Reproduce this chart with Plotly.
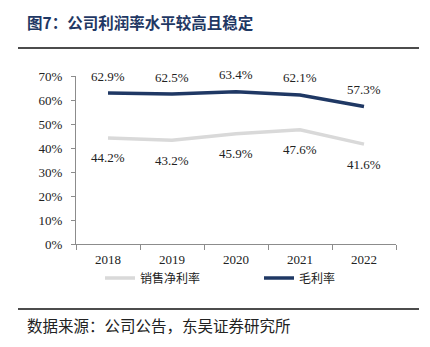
import plotly.graph_objects as go

years = ["2018", "2019", "2020", "2021", "2022"]
net_margin = [44.2, 43.2, 45.9, 47.6, 41.6]     # 销售净利率 (%)
gross_margin = [62.9, 62.5, 63.4, 62.1, 57.3]   # 毛利率 (%)
y_ticks = [0, 10, 20, 30, 40, 50, 60, 70]
y_tick_labels = [f"{v}%" for v in y_ticks]

NAVY = "#1f3864"
GRAY = "#d9d9d9"
AXIS = "#8c8c8c"
SERIF = "Liberation Serif, Times New Roman, serif"
CJK = "Noto Sans CJK SC, sans-serif"

W, H = 430, 347
L, R, T, B = 76, 34, 76, 103
pw, ph = W - L - R, H - T - B

def px(x):
    return (x - L) / pw

def py(y):
    return (H - B - y) / ph

fig = go.Figure()
fig.add_trace(go.Scatter(x=years, y=net_margin, mode="lines", name="销售净利率",
                         line=dict(color=GRAY, width=3.5), legend="legend"))
fig.add_trace(go.Scatter(x=years, y=gross_margin, mode="lines", name="毛利率",
                         line=dict(color=NAVY, width=3.5), legend="legend2"))

# value labels: gross margin above the line, net margin below
for i, v in enumerate(gross_margin):
    fig.add_annotation(x=i, y=v, text=f"{v:.1f}%", showarrow=False, yshift=17,
                       font=dict(family=SERIF, size=13, color="#222"))
for i, v in enumerate(net_margin):
    fig.add_annotation(x=i, y=v, text=f"{v:.1f}%", showarrow=False, yshift=-20,
                       font=dict(family=SERIF, size=13, color="#222"))

# header and footer
fig.add_annotation(xref="paper", yref="paper", x=px(25), y=py(22), xanchor="left",
                   yanchor="middle", showarrow=False,
                   text="<b>图7：公司利润率水平较高且稳定</b>",
                   font=dict(family=CJK, size=15.5, color=NAVY))
fig.add_shape(type="line", xref="paper", yref="paper", x0=px(18), x1=px(419),
              y0=py(48), y1=py(48), line=dict(color="#111", width=1.5))
fig.add_shape(type="line", xref="paper", yref="paper", x0=px(18), x1=px(419),
              y0=py(309), y1=py(309), line=dict(color="#111", width=1.5))
fig.add_annotation(xref="paper", yref="paper", x=px(25), y=py(325), xanchor="left",
                   yanchor="middle", showarrow=False,
                   text="数据来源：公司公告，东吴证券研究所",
                   font=dict(family=CJK, size=15.5, color="#222"))

legend_style = dict(orientation="h", xanchor="left", yanchor="middle",
                    font=dict(family=CJK, size=12, color="#222"),
                    bgcolor="rgba(0,0,0,0)", borderwidth=0)

fig.update_layout(
    width=W, height=H,
    margin=dict(l=L, r=R, t=T, b=B),
    paper_bgcolor="white", plot_bgcolor="white",
    showlegend=True,
    legend=dict(x=px(100), y=py(278), **legend_style),
    legend2=dict(x=px(259), y=py(278), **legend_style),
    xaxis=dict(type="category", range=[-0.5, 4.5], showline=True, linecolor=AXIS,
               linewidth=1, ticks="outside", tickson="boundaries", ticklen=5,
               tickcolor=AXIS, showgrid=False, zeroline=False, ticklabelstandoff=3,
               tickfont=dict(family=SERIF, size=13, color="#222")),
    yaxis=dict(range=[0, 70], tickvals=y_ticks, ticktext=y_tick_labels,
               showline=True, linecolor=AXIS, linewidth=1, ticks="outside",
               ticklen=4, tickcolor=AXIS, showgrid=False, zeroline=False,
               ticklabelstandoff=6,
               tickfont=dict(family=SERIF, size=13, color="#222")),
)

fig.write_html("out.html")
